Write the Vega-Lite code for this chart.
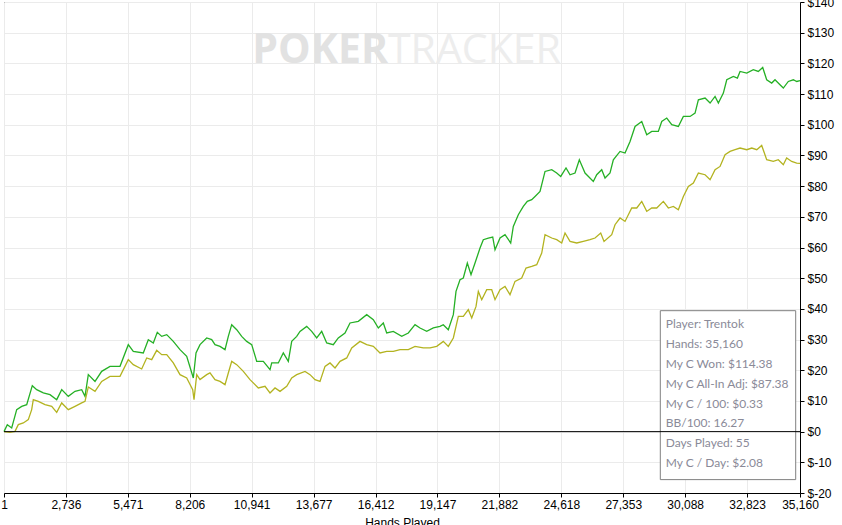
{
  "$schema": "https://vega.github.io/schema/vega-lite/v6.json",
  "width": 796,
  "height": 491,
  "autosize": {"type": "none"},
  "padding": {"left": 4, "top": 2, "right": 42, "bottom": 32},
  "background": "#ffffff",
  "config": {
    "view": {"stroke": "#000000", "strokeWidth": 1},
    "axis": {
      "labelFont": "Liberation Sans",
      "labelFontSize": 12,
      "labelColor": "#000000",
      "labelOverlap": false,
      "labelFlush": false,
      "titleFont": "Liberation Sans",
      "titleFontSize": 12,
      "titleFontWeight": "normal",
      "titleColor": "#000000",
      "domainColor": "#000000",
      "tickColor": "#000000",
      "tickSize": 4,
      "gridColor": "#ebebeb",
      "gridWidth": 1
    }
  },
  "datasets": {
    "curve": [
      {"s": "won", "h": 1, "v": 0},
      {"s": "won", "h": 147, "v": 2.28},
      {"s": "won", "h": 341, "v": 1.21},
      {"s": "won", "h": 562, "v": 7.17},
      {"s": "won", "h": 783, "v": 8.24},
      {"s": "won", "h": 1004, "v": 8.79},
      {"s": "won", "h": 1251, "v": 14.98},
      {"s": "won", "h": 1445, "v": 13.68},
      {"s": "won", "h": 1737, "v": 12.61},
      {"s": "won", "h": 2033, "v": 12.05},
      {"s": "won", "h": 2329, "v": 10.42},
      {"s": "won", "h": 2550, "v": 13.68},
      {"s": "won", "h": 2841, "v": 11.5},
      {"s": "won", "h": 3137, "v": 13.13},
      {"s": "won", "h": 3433, "v": 13.68},
      {"s": "won", "h": 3579, "v": 11.5},
      {"s": "won", "h": 3725, "v": 18.57},
      {"s": "won", "h": 4021, "v": 16.38},
      {"s": "won", "h": 4316, "v": 19.64},
      {"s": "won", "h": 4683, "v": 21.27},
      {"s": "won", "h": 5125, "v": 21.27},
      {"s": "won", "h": 5491, "v": 28.34},
      {"s": "won", "h": 5712, "v": 26.16},
      {"s": "won", "h": 6154, "v": 25.64},
      {"s": "won", "h": 6375, "v": 29.97},
      {"s": "won", "h": 6596, "v": 28.89},
      {"s": "won", "h": 6772, "v": 32.35},
      {"s": "won", "h": 6967, "v": 31.04},
      {"s": "won", "h": 7188, "v": 31.6},
      {"s": "won", "h": 7479, "v": 29.41},
      {"s": "won", "h": 7775, "v": 26.71},
      {"s": "won", "h": 8071, "v": 24.53},
      {"s": "won", "h": 8363, "v": 17.49},
      {"s": "won", "h": 8482, "v": 25.64},
      {"s": "won", "h": 8659, "v": 28.34},
      {"s": "won", "h": 8954, "v": 30.52},
      {"s": "won", "h": 9175, "v": 29.97},
      {"s": "won", "h": 9321, "v": 28.34},
      {"s": "won", "h": 9542, "v": 27.79},
      {"s": "won", "h": 9763, "v": 26.71},
      {"s": "won", "h": 9909, "v": 31.04},
      {"s": "won", "h": 10059, "v": 34.85},
      {"s": "won", "h": 10280, "v": 33.22},
      {"s": "won", "h": 10500, "v": 31.04},
      {"s": "won", "h": 10721, "v": 29.41},
      {"s": "won", "h": 10942, "v": 28.34},
      {"s": "won", "h": 11163, "v": 22.9},
      {"s": "won", "h": 11455, "v": 22.9},
      {"s": "won", "h": 11751, "v": 20.2},
      {"s": "won", "h": 11826, "v": 22.38},
      {"s": "won", "h": 12117, "v": 22.38},
      {"s": "won", "h": 12338, "v": 25.64},
      {"s": "won", "h": 12559, "v": 22.9},
      {"s": "won", "h": 12709, "v": 29.41},
      {"s": "won", "h": 12930, "v": 31.04},
      {"s": "won", "h": 13075, "v": 32.67},
      {"s": "won", "h": 13371, "v": 34.3},
      {"s": "won", "h": 13592, "v": 32.67},
      {"s": "won", "h": 13813, "v": 30.52},
      {"s": "won", "h": 14034, "v": 32.67},
      {"s": "won", "h": 14255, "v": 28.89},
      {"s": "won", "h": 14546, "v": 28.34},
      {"s": "won", "h": 14767, "v": 30.52},
      {"s": "won", "h": 15063, "v": 32.15},
      {"s": "won", "h": 15284, "v": 35.41},
      {"s": "won", "h": 15651, "v": 35.93},
      {"s": "won", "h": 16022, "v": 38.11},
      {"s": "won", "h": 16314, "v": 36.48},
      {"s": "won", "h": 16535, "v": 33.78},
      {"s": "won", "h": 16755, "v": 35.41},
      {"s": "won", "h": 16905, "v": 32.15},
      {"s": "won", "h": 17197, "v": 32.67},
      {"s": "won", "h": 17568, "v": 31.04},
      {"s": "won", "h": 17860, "v": 32.15},
      {"s": "won", "h": 18156, "v": 34.85},
      {"s": "won", "h": 18376, "v": 33.78},
      {"s": "won", "h": 18672, "v": 32.67},
      {"s": "won", "h": 18964, "v": 33.78},
      {"s": "won", "h": 19259, "v": 34.3},
      {"s": "won", "h": 19405, "v": 34.85},
      {"s": "won", "h": 19626, "v": 33.22},
      {"s": "won", "h": 19848, "v": 38.11},
      {"s": "won", "h": 19966, "v": 45.7},
      {"s": "won", "h": 20143, "v": 49.51},
      {"s": "won", "h": 20289, "v": 50.07},
      {"s": "won", "h": 20466, "v": 54.95},
      {"s": "won", "h": 20629, "v": 51.14},
      {"s": "won", "h": 20806, "v": 54.95},
      {"s": "won", "h": 21027, "v": 59.84},
      {"s": "won", "h": 21172, "v": 62.54},
      {"s": "won", "h": 21393, "v": 63.09},
      {"s": "won", "h": 21587, "v": 63.42},
      {"s": "won", "h": 21689, "v": 59.28},
      {"s": "won", "h": 21910, "v": 63.09},
      {"s": "won", "h": 22131, "v": 64.17},
      {"s": "won", "h": 22382, "v": 61.47},
      {"s": "won", "h": 22497, "v": 66.87},
      {"s": "won", "h": 22718, "v": 70.68},
      {"s": "won", "h": 22939, "v": 73.39},
      {"s": "won", "h": 23116, "v": 75.02},
      {"s": "won", "h": 23310, "v": 75.57},
      {"s": "won", "h": 23456, "v": 76.64},
      {"s": "won", "h": 23677, "v": 78.27},
      {"s": "won", "h": 23898, "v": 84.79},
      {"s": "won", "h": 24194, "v": 85.34},
      {"s": "won", "h": 24414, "v": 84.27},
      {"s": "won", "h": 24591, "v": 83.16},
      {"s": "won", "h": 24825, "v": 85.9},
      {"s": "won", "h": 25002, "v": 83.71},
      {"s": "won", "h": 25223, "v": 84.27},
      {"s": "won", "h": 25413, "v": 88.6},
      {"s": "won", "h": 25665, "v": 84.27},
      {"s": "won", "h": 26031, "v": 81.53},
      {"s": "won", "h": 26181, "v": 83.71},
      {"s": "won", "h": 26402, "v": 85.34},
      {"s": "won", "h": 26548, "v": 82.64},
      {"s": "won", "h": 26769, "v": 84.27},
      {"s": "won", "h": 26915, "v": 88.6},
      {"s": "won", "h": 27211, "v": 91.3},
      {"s": "won", "h": 27432, "v": 90.78},
      {"s": "won", "h": 27653, "v": 94.56},
      {"s": "won", "h": 27874, "v": 99.45},
      {"s": "won", "h": 28170, "v": 101.07},
      {"s": "won", "h": 28391, "v": 96.74},
      {"s": "won", "h": 28611, "v": 97.82},
      {"s": "won", "h": 28903, "v": 97.82},
      {"s": "won", "h": 29053, "v": 101.07},
      {"s": "won", "h": 29274, "v": 102.18},
      {"s": "won", "h": 29495, "v": 100.0},
      {"s": "won", "h": 29787, "v": 99.45},
      {"s": "won", "h": 30008, "v": 102.7},
      {"s": "won", "h": 30304, "v": 102.7},
      {"s": "won", "h": 30525, "v": 103.81},
      {"s": "won", "h": 30671, "v": 108.14},
      {"s": "won", "h": 30967, "v": 108.7},
      {"s": "won", "h": 31188, "v": 107.07},
      {"s": "won", "h": 31408, "v": 109.22},
      {"s": "won", "h": 31554, "v": 107.07},
      {"s": "won", "h": 31775, "v": 110.33},
      {"s": "won", "h": 31925, "v": 114.66},
      {"s": "won", "h": 32217, "v": 115.73},
      {"s": "won", "h": 32394, "v": 115.21},
      {"s": "won", "h": 32513, "v": 117.36},
      {"s": "won", "h": 32809, "v": 116.84},
      {"s": "won", "h": 33097, "v": 117.92},
      {"s": "won", "h": 33318, "v": 117.36},
      {"s": "won", "h": 33513, "v": 118.66},
      {"s": "won", "h": 33689, "v": 114.66},
      {"s": "won", "h": 33910, "v": 113.58},
      {"s": "won", "h": 34056, "v": 114.66},
      {"s": "won", "h": 34277, "v": 113.03},
      {"s": "won", "h": 34423, "v": 111.95},
      {"s": "won", "h": 34644, "v": 114.1},
      {"s": "won", "h": 34865, "v": 114.66},
      {"s": "won", "h": 35016, "v": 114.1},
      {"s": "won", "h": 35160, "v": 114.38},
      {"s": "adj", "h": 1, "v": 0},
      {"s": "adj", "h": 266, "v": -0.23},
      {"s": "adj", "h": 487, "v": 0.1},
      {"s": "adj", "h": 633, "v": 2.28},
      {"s": "adj", "h": 854, "v": 2.83},
      {"s": "adj", "h": 1074, "v": 3.91},
      {"s": "adj", "h": 1224, "v": 7.17},
      {"s": "adj", "h": 1295, "v": 10.42},
      {"s": "adj", "h": 1516, "v": 9.87},
      {"s": "adj", "h": 1812, "v": 8.79},
      {"s": "adj", "h": 2108, "v": 8.24},
      {"s": "adj", "h": 2329, "v": 6.29},
      {"s": "adj", "h": 2550, "v": 9.35},
      {"s": "adj", "h": 2841, "v": 7.17},
      {"s": "adj", "h": 3137, "v": 8.24},
      {"s": "adj", "h": 3433, "v": 9.35},
      {"s": "adj", "h": 3579, "v": 9.87},
      {"s": "adj", "h": 3725, "v": 14.56},
      {"s": "adj", "h": 4021, "v": 13.13},
      {"s": "adj", "h": 4316, "v": 16.38},
      {"s": "adj", "h": 4683, "v": 18.01},
      {"s": "adj", "h": 5125, "v": 18.01},
      {"s": "adj", "h": 5491, "v": 23.45},
      {"s": "adj", "h": 5712, "v": 21.82},
      {"s": "adj", "h": 6083, "v": 20.42},
      {"s": "adj", "h": 6304, "v": 24.01},
      {"s": "adj", "h": 6525, "v": 23.45},
      {"s": "adj", "h": 6746, "v": 26.48},
      {"s": "adj", "h": 6967, "v": 25.08},
      {"s": "adj", "h": 7188, "v": 25.08},
      {"s": "adj", "h": 7479, "v": 22.38},
      {"s": "adj", "h": 7775, "v": 18.57},
      {"s": "adj", "h": 8071, "v": 17.49},
      {"s": "adj", "h": 8336, "v": 13.68},
      {"s": "adj", "h": 8394, "v": 10.42},
      {"s": "adj", "h": 8513, "v": 18.57},
      {"s": "adj", "h": 8659, "v": 16.94},
      {"s": "adj", "h": 8954, "v": 18.57},
      {"s": "adj", "h": 9100, "v": 19.12},
      {"s": "adj", "h": 9321, "v": 16.94},
      {"s": "adj", "h": 9542, "v": 16.38},
      {"s": "adj", "h": 9763, "v": 15.31},
      {"s": "adj", "h": 9909, "v": 19.12},
      {"s": "adj", "h": 10059, "v": 22.9},
      {"s": "adj", "h": 10280, "v": 21.82},
      {"s": "adj", "h": 10572, "v": 19.64},
      {"s": "adj", "h": 10867, "v": 16.94},
      {"s": "adj", "h": 11234, "v": 14.23},
      {"s": "adj", "h": 11530, "v": 14.76},
      {"s": "adj", "h": 11751, "v": 12.61},
      {"s": "adj", "h": 11972, "v": 14.23},
      {"s": "adj", "h": 12193, "v": 13.13},
      {"s": "adj", "h": 12489, "v": 14.76},
      {"s": "adj", "h": 12709, "v": 17.49},
      {"s": "adj", "h": 12930, "v": 18.57},
      {"s": "adj", "h": 13297, "v": 19.64},
      {"s": "adj", "h": 13518, "v": 18.57},
      {"s": "adj", "h": 13738, "v": 16.94},
      {"s": "adj", "h": 13959, "v": 16.38},
      {"s": "adj", "h": 14180, "v": 21.27},
      {"s": "adj", "h": 14401, "v": 22.38},
      {"s": "adj", "h": 14622, "v": 20.75},
      {"s": "adj", "h": 14843, "v": 22.9},
      {"s": "adj", "h": 15139, "v": 24.01},
      {"s": "adj", "h": 15360, "v": 27.26},
      {"s": "adj", "h": 15725, "v": 29.41},
      {"s": "adj", "h": 16022, "v": 28.34},
      {"s": "adj", "h": 16314, "v": 27.79},
      {"s": "adj", "h": 16609, "v": 25.64},
      {"s": "adj", "h": 16905, "v": 26.16},
      {"s": "adj", "h": 17197, "v": 26.16},
      {"s": "adj", "h": 17493, "v": 26.71},
      {"s": "adj", "h": 17860, "v": 26.71},
      {"s": "adj", "h": 18156, "v": 27.79},
      {"s": "adj", "h": 18522, "v": 27.26},
      {"s": "adj", "h": 18818, "v": 27.26},
      {"s": "adj", "h": 19114, "v": 27.79},
      {"s": "adj", "h": 19405, "v": 29.41},
      {"s": "adj", "h": 19626, "v": 27.79},
      {"s": "adj", "h": 19848, "v": 30.52},
      {"s": "adj", "h": 20069, "v": 37.56},
      {"s": "adj", "h": 20289, "v": 37.56},
      {"s": "adj", "h": 20510, "v": 39.74},
      {"s": "adj", "h": 20661, "v": 37.04},
      {"s": "adj", "h": 20850, "v": 40.81},
      {"s": "adj", "h": 20952, "v": 45.7},
      {"s": "adj", "h": 21102, "v": 43.0},
      {"s": "adj", "h": 21322, "v": 46.25},
      {"s": "adj", "h": 21543, "v": 46.25},
      {"s": "adj", "h": 21689, "v": 43.0},
      {"s": "adj", "h": 21910, "v": 46.25},
      {"s": "adj", "h": 22131, "v": 47.33},
      {"s": "adj", "h": 22351, "v": 44.63},
      {"s": "adj", "h": 22572, "v": 48.96},
      {"s": "adj", "h": 22868, "v": 50.07},
      {"s": "adj", "h": 23058, "v": 53.32},
      {"s": "adj", "h": 23310, "v": 53.84},
      {"s": "adj", "h": 23531, "v": 54.4},
      {"s": "adj", "h": 23752, "v": 58.21},
      {"s": "adj", "h": 23898, "v": 64.17},
      {"s": "adj", "h": 24194, "v": 63.09},
      {"s": "adj", "h": 24414, "v": 62.54},
      {"s": "adj", "h": 24635, "v": 61.47},
      {"s": "adj", "h": 24781, "v": 64.72},
      {"s": "adj", "h": 25002, "v": 61.99},
      {"s": "adj", "h": 25298, "v": 61.47},
      {"s": "adj", "h": 25589, "v": 61.99},
      {"s": "adj", "h": 25885, "v": 62.54},
      {"s": "adj", "h": 26106, "v": 63.09},
      {"s": "adj", "h": 26358, "v": 64.72},
      {"s": "adj", "h": 26504, "v": 61.99},
      {"s": "adj", "h": 26844, "v": 64.17},
      {"s": "adj", "h": 26990, "v": 67.43},
      {"s": "adj", "h": 27211, "v": 69.61},
      {"s": "adj", "h": 27432, "v": 68.5},
      {"s": "adj", "h": 27728, "v": 72.87},
      {"s": "adj", "h": 27949, "v": 72.87},
      {"s": "adj", "h": 28170, "v": 75.02},
      {"s": "adj", "h": 28391, "v": 71.76},
      {"s": "adj", "h": 28611, "v": 72.87},
      {"s": "adj", "h": 28832, "v": 72.87},
      {"s": "adj", "h": 29124, "v": 75.02},
      {"s": "adj", "h": 29345, "v": 72.87},
      {"s": "adj", "h": 29566, "v": 73.39},
      {"s": "adj", "h": 29787, "v": 72.31},
      {"s": "adj", "h": 30008, "v": 76.64},
      {"s": "adj", "h": 30229, "v": 79.9},
      {"s": "adj", "h": 30450, "v": 81.01},
      {"s": "adj", "h": 30671, "v": 84.27},
      {"s": "adj", "h": 30967, "v": 83.71},
      {"s": "adj", "h": 31188, "v": 82.08},
      {"s": "adj", "h": 31408, "v": 85.34},
      {"s": "adj", "h": 31629, "v": 86.42},
      {"s": "adj", "h": 31850, "v": 90.23},
      {"s": "adj", "h": 32071, "v": 91.3},
      {"s": "adj", "h": 32292, "v": 91.86},
      {"s": "adj", "h": 32513, "v": 92.41},
      {"s": "adj", "h": 32809, "v": 91.86},
      {"s": "adj", "h": 33030, "v": 92.41},
      {"s": "adj", "h": 33251, "v": 91.86},
      {"s": "adj", "h": 33468, "v": 93.26},
      {"s": "adj", "h": 33689, "v": 88.6},
      {"s": "adj", "h": 33981, "v": 88.05},
      {"s": "adj", "h": 34202, "v": 88.6},
      {"s": "adj", "h": 34423, "v": 86.97},
      {"s": "adj", "h": 34571, "v": 89.15},
      {"s": "adj", "h": 34792, "v": 88.05},
      {"s": "adj", "h": 35013, "v": 87.52},
      {"s": "adj", "h": 35160, "v": 87.38}
    ],
    "info": [
      {"label": "Player: Trentok", "h": 29229, "v": 35.18},
      {"label": "Hands: 35,160", "h": 29229, "v": 28.66},
      {"label": "My C Won: $114.38", "h": 29229, "v": 22.15},
      {"label": "My C All-In Adj: $87.38", "h": 29229, "v": 15.64},
      {"label": "My C / 100: $0.33", "h": 29229, "v": 9.12},
      {"label": "BB/100: 16.27", "h": 29229, "v": 2.83},
      {"label": "Days Played: 55", "h": 29229, "v": -3.68},
      {"label": "My C / Day: $2.08", "h": 29229, "v": -10.2}
    ],
    "box": [
      {"h": 28990, "h2": 34970, "v": 39.41, "v2": -15.64}
    ],
    "zero": [
      {"h": 1, "h2": 35160, "v": 0}
    ],
    "brand": [
      {"word": "POKER", "h": 16962, "v": 124.1, "part": "bold"},
      {"word": "TRACKER", "h": 16962, "v": 124.1, "part": "light"}
    ]
  },
  "encoding": {
    "x": {"field": "h", "type": "quantitative", "scale": {"domain": [1, 35160], "nice": false, "zero": false},
      "axis": {"values": [1, 2736, 5471, 8206, 10941, 13677, 16412, 19147, 21882, 24618, 27353, 30088, 32823, 35160], "labelExpr": "format(datum.value, ',')", "title": "Hands Played", "grid": true, "titlePadding": 7, "labelPadding": 2}},
    "y": {"field": "v", "type": "quantitative", "scale": {"domain": [-20, 140], "nice": false, "zero": false},
      "axis": {"orient": "right", "values": [-20, -10, 0, 10, 20, 30, 40, 50, 60, 70, 80, 90, 100, 110, 120, 130, 140], "labelExpr": "'$' + datum.value", "title": null, "grid": true, "labelPadding": 3}}
  },
  "layer": [
    {
      "data": {"name": "curve"},
      "mark": {"type": "line", "strokeWidth": 1.3, "interpolate": "linear"},
      "encoding": {
        "color": {"field": "s", "type": "nominal", "scale": {"domain": ["won", "adj"], "range": ["#25b025", "#b3b320"]}, "legend": null},
        "order": {"field": "h", "type": "quantitative"}
      }
    },
    {
      "data": {"name": "brand"},
      "transform": [{"filter": "datum.part == 'bold'"}],
      "mark": {"type": "text", "align": "right", "baseline": "middle", "font": "Open Sans", "fontSize": 41, "fontWeight": "bold", "color": "#e2e2e2"},
      "encoding": {
        "text": {"field": "word"}
      }
    },
    {
      "data": {"name": "brand"},
      "transform": [{"filter": "datum.part == 'light'"}],
      "mark": {"type": "text", "align": "left", "baseline": "middle", "font": "Open Sans", "fontSize": 41, "fontWeight": "normal", "color": "#ededed"},
      "encoding": {
        "text": {"field": "word"}
      }
    },
    {
      "data": {"name": "box"},
      "mark": {"type": "rect", "fill": "#ffffff", "stroke": "#808080", "strokeWidth": 1},
      "encoding": {
        "x2": {"field": "h2"},
        "y2": {"field": "v2"}
      }
    },
    {
      "data": {"name": "zero"},
      "mark": {"type": "rule", "color": "#000000", "strokeWidth": 1},
      "encoding": {
        "x2": {"field": "h2"}
      }
    },
    {
      "data": {"name": "info"},
      "mark": {"type": "text", "align": "left", "baseline": "middle", "font": "Lato", "fontSize": 12, "color": "#8a8a98"},
      "encoding": {
        "text": {"field": "label"}
      }
    }
  ]
}
